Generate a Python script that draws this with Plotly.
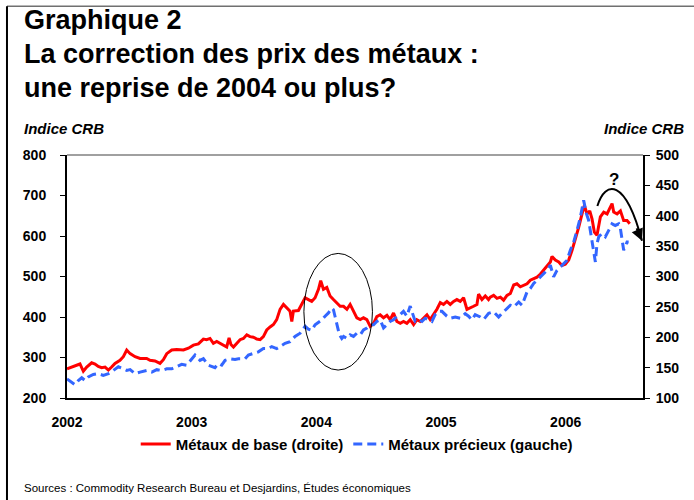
import plotly.graph_objects as go

# decimal-year positions and CRB index values
base_t = [2002.000, 2002.037, 2002.078, 2002.104, 2002.131, 2002.158, 2002.198, 2002.225, 2002.251, 2002.278,
          2002.305, 2002.332, 2002.358, 2002.385, 2002.425, 2002.452, 2002.479, 2002.506, 2002.546, 2002.586,
          2002.639, 2002.666, 2002.706, 2002.746, 2002.773, 2002.800, 2002.840, 2002.880, 2002.934, 2002.974,
          2003.014, 2003.054, 2003.094, 2003.120, 2003.147, 2003.174, 2003.201, 2003.228, 2003.254, 2003.281,
          2003.300, 2003.315, 2003.335, 2003.361, 2003.388, 2003.415, 2003.442, 2003.468, 2003.495, 2003.522,
          2003.549, 2003.575, 2003.602, 2003.629, 2003.656, 2003.682, 2003.709, 2003.736, 2003.763, 2003.789,
          2003.803, 2003.816, 2003.856, 2003.883, 2003.910, 2003.936, 2003.963, 2003.990, 2004.017, 2004.035,
          2004.057, 2004.084, 2004.110, 2004.137, 2004.164, 2004.191, 2004.218, 2004.245, 2004.271, 2004.298,
          2004.325, 2004.352, 2004.378, 2004.405, 2004.432, 2004.459, 2004.485, 2004.512, 2004.539, 2004.566,
          2004.592, 2004.619, 2004.646, 2004.673, 2004.699, 2004.726, 2004.753, 2004.780, 2004.806, 2004.833,
          2004.860, 2004.887, 2004.913, 2004.940, 2004.967, 2004.994, 2005.020, 2005.047, 2005.074, 2005.101,
          2005.127, 2005.154, 2005.181, 2005.208, 2005.234, 2005.261, 2005.288, 2005.301, 2005.328, 2005.355,
          2005.381, 2005.395, 2005.422, 2005.449, 2005.476, 2005.502, 2005.529, 2005.556, 2005.583, 2005.609,
          2005.636, 2005.663, 2005.690, 2005.716, 2005.743, 2005.770, 2005.797, 2005.823, 2005.850, 2005.877,
          2005.890, 2005.917, 2005.944, 2005.970, 2005.997, 2006.024, 2006.051, 2006.077, 2006.104, 2006.131,
          2006.150, 2006.171, 2006.193, 2006.211, 2006.230, 2006.251, 2006.278, 2006.305, 2006.332, 2006.353,
          2006.372, 2006.385, 2006.412, 2006.439, 2006.465, 2006.492, 2006.514]
base_idx = [148, 151, 154, 156, 144, 151, 158, 156, 152, 150,
            151, 146, 151, 157, 162, 168, 179, 173, 168, 165,
            165, 162, 161, 157, 163, 173, 179, 180, 179, 182,
            187, 189, 197, 196, 198, 190, 193, 190, 186, 184,
            199, 188, 184, 190, 196, 198, 204, 201, 200, 197,
            196, 201, 212, 217, 221, 229, 246, 254, 248, 243,
            226, 243, 244, 254, 265, 262, 259, 265, 279, 293,
            279, 282, 268, 262, 257, 251, 251, 246, 254, 243,
            232, 229, 232, 229, 218, 223, 234, 237, 232, 236,
            229, 240, 226, 223, 226, 223, 229, 221, 229, 226,
            232, 237, 229, 237, 246, 257, 254, 259, 254, 259,
            262, 259, 265, 246, 248, 251, 254, 271, 262, 268,
            262, 266, 269, 264, 266, 261, 269, 272, 286, 288,
            283, 286, 288, 294, 297, 299, 304, 310, 316, 324,
            333, 327, 324, 318, 320, 327, 343, 360, 381, 403,
            417, 403, 408, 395, 373, 368, 398, 406, 403, 412,
            420, 406, 403, 408, 392, 392, 387]

prec_t = [2002.000, 2002.037, 2002.064, 2002.091, 2002.118, 2002.145, 2002.171, 2002.211, 2002.251, 2002.291,
          2002.332, 2002.372, 2002.412, 2002.452, 2002.479, 2002.506, 2002.546, 2002.586, 2002.639, 2002.680,
          2002.720, 2002.760, 2002.800, 2002.840, 2002.880, 2002.920, 2002.960, 2003.000, 2003.027, 2003.067,
          2003.094, 2003.134, 2003.161, 2003.187, 2003.214, 2003.241, 2003.268, 2003.308, 2003.348, 2003.375,
          2003.428, 2003.455, 2003.495, 2003.535, 2003.575, 2003.615, 2003.642, 2003.682, 2003.709, 2003.749,
          2003.789, 2003.829, 2003.870, 2003.910, 2003.936, 2003.963, 2003.990, 2004.017, 2004.044, 2004.070,
          2004.097, 2004.124, 2004.137, 2004.151, 2004.169, 2004.185, 2004.204, 2004.218, 2004.245, 2004.271,
          2004.298, 2004.325, 2004.352, 2004.378, 2004.405, 2004.432, 2004.459, 2004.485, 2004.512, 2004.539,
          2004.566, 2004.592, 2004.619, 2004.646, 2004.673, 2004.699, 2004.726, 2004.753, 2004.766, 2004.793,
          2004.820, 2004.847, 2004.873, 2004.900, 2004.927, 2004.953, 2004.980, 2005.007, 2005.047, 2005.074,
          2005.114, 2005.154, 2005.194, 2005.221, 2005.248, 2005.274, 2005.315, 2005.342, 2005.382, 2005.422,
          2005.462, 2005.489, 2005.516, 2005.556, 2005.583, 2005.623, 2005.650, 2005.690, 2005.716, 2005.743,
          2005.770, 2005.797, 2005.823, 2005.850, 2005.877, 2005.903, 2005.930, 2005.957, 2005.983, 2006.011,
          2006.037, 2006.064, 2006.091, 2006.118, 2006.144, 2006.166, 2006.184, 2006.203, 2006.225, 2006.238,
          2006.251, 2006.265, 2006.291, 2006.318, 2006.345, 2006.372, 2006.398, 2006.425, 2006.439, 2006.452,
          2006.465, 2006.492, 2006.505]
prec_idx = [247, 239, 233, 243, 250, 243, 252, 258, 260, 256,
            260, 268, 277, 272, 268, 270, 260, 264, 268, 264,
            270, 268, 272, 272, 277, 283, 281, 295, 306, 293,
            297, 281, 278, 275, 285, 281, 293, 297, 295, 297,
            297, 306, 310, 314, 322, 322, 327, 322, 327, 335,
            339, 352, 360, 377, 370, 367, 381, 387, 393, 402,
            410, 422, 418, 400, 377, 356, 347, 352, 347, 356,
            352, 360, 356, 368, 373, 381, 381, 389, 393, 373,
            381, 389, 393, 402, 406, 414, 402, 427, 414, 389,
            393, 389, 397, 393, 389, 406, 414, 414, 402, 397,
            400, 397, 408, 402, 393, 406, 400, 394, 409, 413,
            400, 409, 417, 429, 425, 437, 429, 462, 470, 483,
            491, 499, 507, 515, 528, 499, 515, 524, 532, 540,
            565, 585, 614, 647, 688, 655, 639, 606, 565, 536,
            581, 598, 606, 598, 614, 630, 626, 630, 618, 589,
            565, 585, 585]

years = [2002, 2003, 2004, 2005, 2006]
year_labels = ["2002", "2003", "2004", "2005", "2006"]

FONT = "Liberation Sans, Arial, sans-serif"

fig = go.Figure()
fig.add_trace(go.Scatter(
    x=base_t, y=base_idx, yaxis="y", mode="lines",
    name="Métaux de base (droite)",
    line=dict(color="#ff0000", width=3),
))
fig.add_trace(go.Scatter(
    x=prec_t, y=prec_idx, yaxis="y2", mode="lines",
    name="Métaux précieux (gauche)",
    line=dict(color="#3366ff", width=3, dash="9px,5px"),
))

tick_font = dict(family=FONT, size=14, color="black", weight="bold")

fig.update_layout(
    width=694, height=500,
    margin=dict(l=67, r=51, t=155, b=102),
    paper_bgcolor="white", plot_bgcolor="white",
    font=dict(family=FONT, color="black"),
    xaxis=dict(range=[2002.0, 2006.62], tickvals=years, ticktext=year_labels,
               showgrid=False, zeroline=False, showline=True, linecolor="black",
               linewidth=2, ticks="", tickfont=tick_font, ticklabelstandoff=10),
    yaxis=dict(range=[100, 500], dtick=50, side="right", showgrid=False,
               zeroline=False, showline=True, linecolor="black", linewidth=2,
               ticks="outside", ticklen=5, tickcolor="black", tickfont=tick_font,
               ticklabelstandoff=3),
    yaxis2=dict(range=[200, 800], dtick=100, side="left", overlaying="y",
                showgrid=False, zeroline=False, showline=True, linecolor="black",
                linewidth=2, ticks="outside", ticklen=5, tickcolor="black",
                tickfont=tick_font, ticklabelstandoff=11),
    legend=dict(orientation="h", x=0.503, xanchor="center", y=-0.190, yanchor="middle",
                font=dict(family=FONT, size=15, weight="bold"), itemwidth=30,
                bgcolor="rgba(0,0,0,0)"),
    showlegend=True,
)

# ellipse around the 2004 episode and the "?" arc near 2006
fig.add_shape(type="circle", xref="x", yref="y2", x0=2003.90, x1=2004.45, y0=269, y1=557,
              line=dict(color="black", width=1))
fig.add_shape(type="path", xref="x", yref="y2",
              path="M 2006.254,674 C 2006.318,738 2006.478,743 2006.612,588",
              line=dict(color="black", width=2))
fig.add_annotation(x=2006.612, y=588, xref="x", yref="y2", ax=-6, ay=-14, text="",
                   showarrow=True, arrowhead=2, arrowsize=1.2, arrowwidth=2, arrowcolor="black")
fig.add_annotation(x=2006.39, y=740, xref="x", yref="y2", text="<b>?</b>", showarrow=False,
                   font=dict(family=FONT, size=17, color="black"))

# plot frame top and figure border
fig.add_shape(type="line", xref="paper", yref="paper", x0=0, x1=1, y0=1, y1=1,
              line=dict(color="#808080", width=1.5))
fig.add_shape(type="line", xref="paper", yref="paper", x0=-0.1042, x1=1.2, y0=1.612, y1=1.612,
              line=dict(color="#707070", width=1.5))
fig.add_shape(type="line", xref="paper", yref="paper", x0=-0.1042, x1=-0.1042, y0=-0.45, y1=1.612,
              line=dict(color="black", width=2))

for txt, yy in [("Graphique 2", 1.556), ("La correction des prix des métaux :", 1.416),
                ("une reprise de 2004 ou plus?", 1.276)]:
    fig.add_annotation(x=-0.0781, y=yy, xref="paper", yref="paper", text=f"<b>{txt}</b>",
                       showarrow=False, xanchor="left", yanchor="middle",
                       font=dict(family=FONT, size=27, color="black"))

fig.add_annotation(x=-0.0781, y=1.111, xref="paper", yref="paper", text="<b><i>Indice CRB</i></b>",
                   showarrow=False, xanchor="left", yanchor="middle",
                   font=dict(family=FONT, size=15, color="black"))
fig.add_annotation(x=1.0747, y=1.111, xref="paper", yref="paper", text="<b><i>Indice CRB</i></b>",
                   showarrow=False, xanchor="right", yanchor="middle",
                   font=dict(family=FONT, size=15, color="black"))
fig.add_annotation(x=-0.0781, y=-0.370, xref="paper", yref="paper",
                   text="Sources : Commodity Research Bureau et Desjardins, Études économiques",
                   showarrow=False, xanchor="left", yanchor="middle",
                   font=dict(family=FONT, size=11.5, color="black"))

# page body has a default 8px margin; drop it so the figure sits at the window corner
fig.write_html("out.html", config={"displayModeBar": False},
               post_script="document.body.style.margin='0';")
